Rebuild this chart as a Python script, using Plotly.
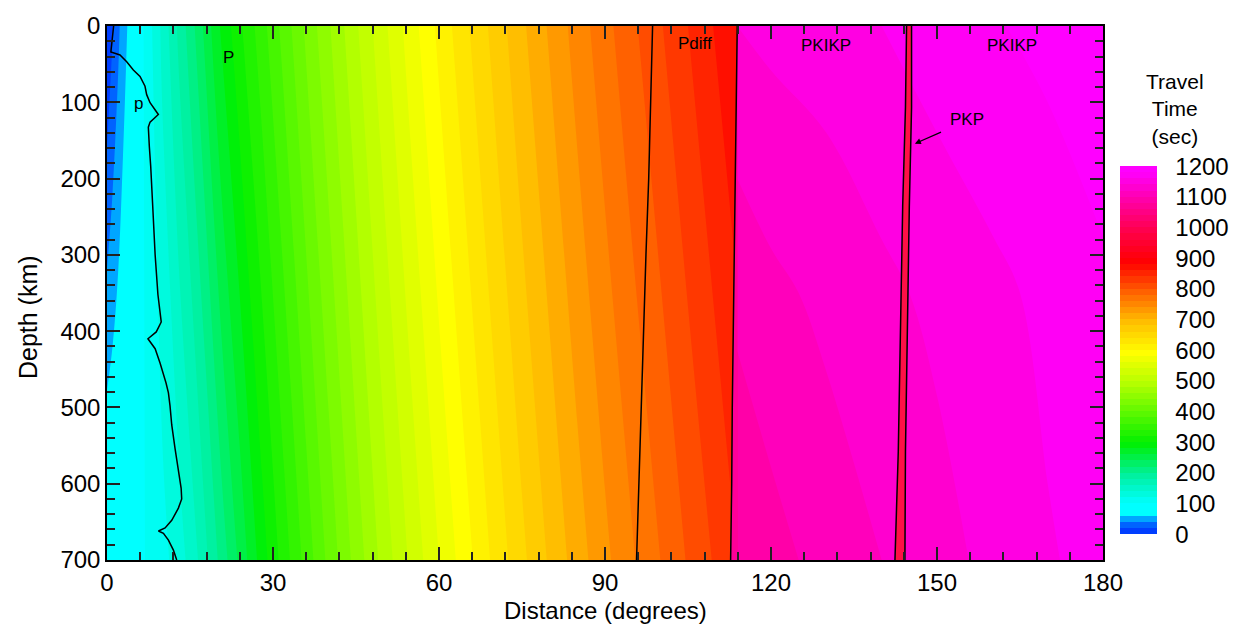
import plotly.graph_objects as go

# ---------------- data ----------------
# P / Pdiff region: travel time (s) at the surface and at 700 km depth
P_DEPTHS = [0, 700]
P_DIST = [0, 1, 2, 3, 4, 6, 8, 10, 13, 16, 20, 24, 28, 32, 36, 40, 45, 50, 55,
          60, 65, 70, 75, 80, 85, 90, 95, 100, 105, 110, 113.9]
P_TT_SURF = [0, 18, 35, 52, 64, 92, 118, 145, 185, 222, 276, 316, 352, 388, 424,
             457, 497, 535, 571, 605, 637, 667, 696, 723, 749, 773, 796, 818,
             840, 862, 879]
P_TT_700 = [88, 88, 89, 90, 92, 97, 104, 113, 130, 155, 200, 245, 290, 330, 368,
            405, 448, 488, 525, 560, 593, 625, 655, 683, 710, 735, 758, 780,
            802, 823, 840]

# PKIKP region
PKIKP_DEPTHS = [0, 350, 700]
PKIKP_DIST = [113.9, 120, 130, 140, 150, 160, 170, 180]
PKIKP_TT_SURF = [1140, 1145, 1150, 1160, 1170, 1178, 1186, 1195]
PKIKP_TT_350 = [1105, 1115, 1125, 1135, 1145, 1155, 1165, 1176]
PKIKP_TT_700 = [1082, 1092, 1108, 1120, 1132, 1146, 1158, 1167]

# phase boundaries (distance in degrees vs depth in km)
BND_DEPTH = [0, 100, 200, 300, 400, 500, 600, 700]
PDIFF_BND = [98.6, 98.3, 97.9, 97.4, 97.0, 96.6, 96.1, 95.7]
PKIKP_BND = [113.9, 113.7, 113.5, 113.3, 113.2, 113.0, 112.9, 112.7]
PKIKP_EDGE_COLOR = "#ff0098"

PKP_DEPTH = [0, 107, 236, 365, 558, 700]
PKP_LEFT = [144.5, 144.3, 143.8, 143.5, 143.0, 142.4]
PKP_RIGHT = [145.4, 145.4, 145.0, 144.7, 144.3, 144.2]
PKP_COLOR = "#ff1046"

PBND_DIST = [1.2, 0.7, 2.35, 3.56, 4.76, 5.97, 6.87, 7.17, 7.78, 8.38, 9.28, 7.78,
             7.47, 7.65, 7.9, 8.26, 8.7, 9.2, 9.8, 8.9, 7.4, 8.7, 9.6, 10.67,
             11.1, 11.39, 11.7, 12.3, 12.9, 13.4, 13.5, 12.9, 11.7, 10.5, 9.3,
             10.2, 11.1, 12.0, 12.6]
PBND_DEPTH = [0, 34, 38, 46.8, 57.6, 66, 79, 90, 100.6, 107, 116, 126, 132.6,
              158, 184, 236, 300, 352, 388, 401, 410, 423, 442, 468, 481, 498,
              523, 554, 584, 606, 620, 632, 648, 658, 662, 665, 674, 687, 700]

# colour scale (travel time -> colour)
CS_TT = [0, 24, 42, 58, 66, 100, 200, 300, 400, 500, 600, 700, 800, 900, 1000, 1100, 1200]
CS_COL = ["#0030ff", "#0050ff", "#0085ff", "#00c0ff", "#00ffff", "#00ffff",
          "#00f09a", "#00f000", "#5cf800", "#b4ff00", "#ffff00", "#ffc000",
          "#ff6400", "#ff0000", "#ff0048", "#ff00a0", "#ff00ff"]
TT_MIN, TT_MAX, TT_STEP = 0, 1200, 20
CB_TICKS = list(range(0, 1201, 100))

FONT = "Liberation Sans, Arial, sans-serif"

colorscale = [[t / TT_MAX, c] for t, c in zip(CS_TT, CS_COL)]
contours = dict(start=TT_MIN, end=TT_MAX - TT_STEP, size=TT_STEP, coloring="fill",
                showlines=False)

fig = go.Figure()

fig.add_trace(go.Contour(
    x=P_DIST, y=P_DEPTHS, z=[P_TT_SURF, P_TT_700],
    colorscale=colorscale, zmin=TT_MIN, zmax=TT_MAX, contours=contours,
    autocontour=False, line=dict(width=0), hoverinfo="skip",
    colorbar=dict(
        thickness=37, thicknessmode="pixels", len=0.689, lenmode="fraction",
        x=1.017, xanchor="left", xpad=0, y=0.0479, yanchor="bottom", ypad=0,
        outlinewidth=0, tickvals=CB_TICKS, ticks="outside", ticklen=14,
        tickcolor="rgba(0,0,0,0)", tickfont=dict(size=24, family=FONT, color="black"),
    ),
))

fig.add_trace(go.Contour(
    x=PKIKP_DIST, y=PKIKP_DEPTHS, z=[PKIKP_TT_SURF, PKIKP_TT_350, PKIKP_TT_700],
    colorscale=colorscale, zmin=TT_MIN, zmax=TT_MAX, contours=contours,
    autocontour=False, line=dict(width=0), showscale=False, hoverinfo="skip",
))

# sliver of PKIKP colour left of the straight trace edge
edge_x = max(PKIKP_BND)
fig.add_trace(go.Scatter(x=PKIKP_BND + [edge_x, edge_x],
                         y=BND_DEPTH + [BND_DEPTH[-1], BND_DEPTH[0]],
                         mode="lines", fill="toself", fillcolor=PKIKP_EDGE_COLOR,
                         line=dict(width=0), hoverinfo="skip", showlegend=False))

# PKP band
fig.add_trace(go.Scatter(x=PKP_LEFT + PKP_RIGHT[::-1], y=PKP_DEPTH + PKP_DEPTH[::-1],
                         mode="lines", fill="toself", fillcolor=PKP_COLOR,
                         line=dict(width=0), hoverinfo="skip", showlegend=False))

line_style = dict(color="black", width=1.5)
for xs, ys in [(PBND_DIST, PBND_DEPTH), (PDIFF_BND, BND_DEPTH), (PKIKP_BND, BND_DEPTH),
               (PKP_LEFT, PKP_DEPTH), (PKP_RIGHT, PKP_DEPTH)]:
    fig.add_trace(go.Scatter(x=xs, y=ys, mode="lines", line=line_style,
                             hoverinfo="skip", showlegend=False))

# phase labels
LABELS = [("P", 21.9, 41), ("p", 5.7, 102), ("Pdiff", 106.3, 23), ("PKIKP", 130, 26),
          ("PKIKP", 163.5, 26), ("PKP", 155.5, 123)]
for txt, lx, ly in LABELS:
    fig.add_annotation(x=lx, y=ly, text=txt, showarrow=False,
                       font=dict(size=17, family=FONT, color="black"))
fig.add_annotation(x=146.0, y=154.2, ax=151.0, ay=138.3, axref="x", ayref="y",
                   text="", showarrow=True, arrowhead=2, arrowsize=1, arrowwidth=1.2,
                   arrowcolor="black")

# axis titles / colorbar title
fig.add_annotation(xref="paper", yref="paper", x=0.501, y=-0.0939, xanchor="center",
                   yanchor="middle", text="Distance (degrees)", showarrow=False,
                   font=dict(size=24, family=FONT, color="black"))
fig.add_annotation(xref="paper", yref="paper", x=-0.0793, y=0.455, xanchor="center",
                   yanchor="middle", text="Depth (km)", textangle=-90, showarrow=False,
                   font=dict(size=25, family=FONT, color="black"))
fig.add_annotation(xref="paper", yref="paper", x=1.0723, y=0.8453, xanchor="center",
                   yanchor="middle", text="Travel<br>Time<br>(sec)", showarrow=False,
                   font=dict(size=21, family=FONT, color="black"))

axis_common = dict(showgrid=False, zeroline=False, showline=True, linecolor="black",
                   linewidth=1.5, mirror="allticks", ticks="inside", ticklen=13,
                   tickwidth=1.5, tickcolor="#222",
                   tickfont=dict(size=24, family=FONT, color="black"))
fig.update_xaxes(range=[0, 180], tickvals=list(range(0, 181, 30)),
                 minor=dict(dtick=6, ticks="inside", ticklen=8, tickwidth=1.5, tickcolor="#222"),
                 **axis_common)
fig.update_yaxes(range=[700, 0], tickvals=list(range(0, 701, 100)),
                 minor=dict(dtick=20, ticks="inside", ticklen=8, tickwidth=1.5, tickcolor="#222"),
                 **axis_common)

fig.update_layout(width=1246, height=633, margin=dict(l=107, r=143, t=17, b=73),
                  paper_bgcolor="white", plot_bgcolor="white", showlegend=False,
                  font=dict(family=FONT))

fig.write_html("out.html")
